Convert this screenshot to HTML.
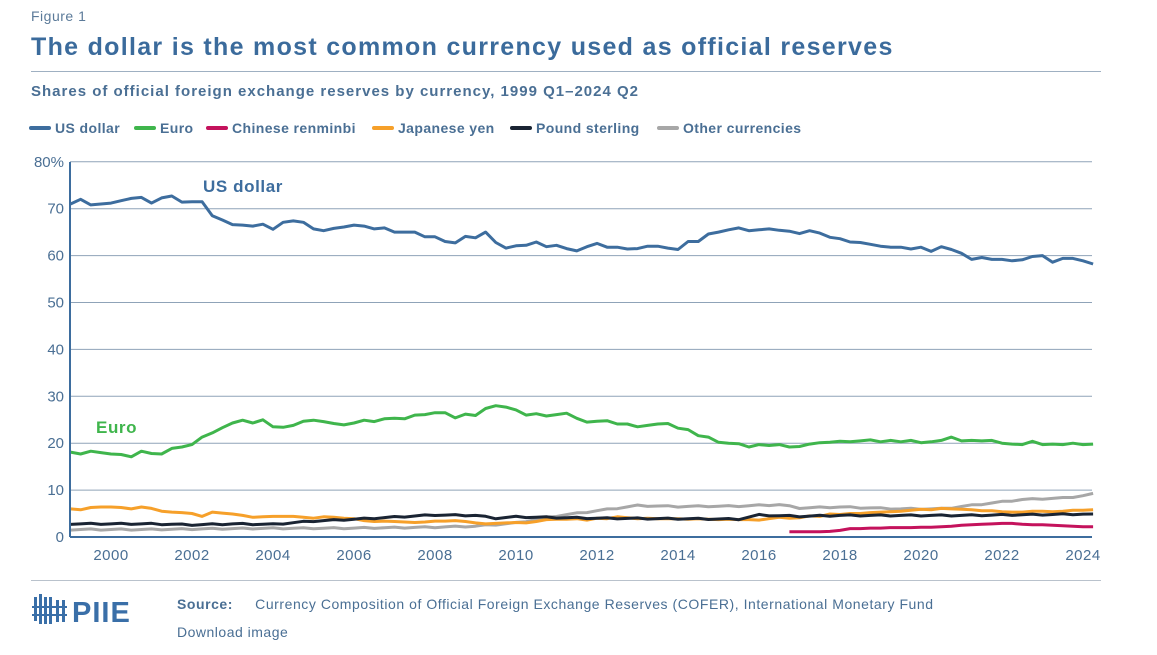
<!DOCTYPE html>
<html><head><meta charset="utf-8"><style>
body{margin:0;background:#fff;width:1157px;height:655px;overflow:hidden;font-family:"Liberation Sans",sans-serif;position:relative}
.t{position:absolute;white-space:nowrap}
</style></head><body>
<div class="t" style="left:31px;top:8px;font-size:14px;color:#5b7a99;letter-spacing:0.5px">Figure 1</div>
<div class="t" style="left:31px;top:33px;font-size:25px;font-weight:bold;color:#3b6b9c;letter-spacing:1.3px">The dollar is the most common currency used as official reserves</div>
<div style="position:absolute;left:31px;top:71px;width:1070px;height:1px;background:#9fb0c2"></div>
<div class="t" style="left:31px;top:83px;font-size:15px;font-weight:bold;color:#4a6f94;letter-spacing:1px">Shares of official foreign exchange reserves by currency, 1999 Q1–2024 Q2</div>
<svg width="1157" height="655" style="position:absolute;left:0;top:0" id="s" font-family="Liberation Sans, sans-serif"></svg>
<div style="position:absolute;left:31px;top:580px;width:1070px;height:1px;background:#b9c2cc"></div>
<div class="t" style="left:72px;top:597px;font-size:29px;font-weight:bold;color:#3a6fa8;letter-spacing:1px">PIIE</div>
<div class="t" style="left:177px;top:596px;font-size:14px;color:#4a6f94;letter-spacing:0.55px"><b>Source:</b>&nbsp;&nbsp;&nbsp;&nbsp; Currency Composition of Official Foreign Exchange Reserves (COFER), International Monetary Fund</div>
<div class="t" style="left:177px;top:624px;font-size:14px;color:#4a6f94;letter-spacing:0.5px">Download image</div>
<script>
const s=document.getElementById('s');let h='';
const X=i=>70.5+i*40.5/4, Y=v=>537-v*4.69;
for(let v=10;v<=80;v+=10)h+=`<line x1="70" x2="1092" y1="${Y(v)}" y2="${Y(v)}" stroke="#8fa3b8" stroke-width="1"/>`;
for(let v=0;v<=80;v+=10)h+=`<text x="64" y="${Y(v)+5}" text-anchor="end" font-size="15" fill="#4a6f94">${v==80?'80%':v}</text>`;
for(let y=2000;y<=2024;y+=2)h+=`<text x="${X((y-1999)*4)}" y="560" text-anchor="middle" font-size="15" fill="#4a6f94" letter-spacing="0.5">${y}</text>`;
h+=`<g fill="#3a6fa8"><rect x="34" y="597" width="3" height="24"/><rect x="39" y="594" width="3" height="30"/><rect x="44" y="597" width="3" height="27"/><rect x="49" y="597" width="3" height="27"/><rect x="56" y="600" width="3" height="22"/><rect x="62" y="600" width="3" height="22"/><rect x="32" y="606" width="35" height="2"/><rect x="32" y="614" width="35" height="2"/></g>`;
const D={
us:[71,72,70.8,71,71.2,71.7,72.2,72.4,71.2,72.3,72.7,71.4,71.5,71.5,68.5,67.6,66.6,66.5,66.3,66.7,65.6,67.1,67.4,67.1,65.7,65.3,65.8,66.1,66.5,66.3,65.7,65.9,65,65,65,64,64,63,62.7,64.1,63.8,65,62.8,61.6,62.1,62.2,62.9,61.9,62.2,61.5,61,61.9,62.6,61.8,61.8,61.4,61.5,62,62,61.6,61.3,63,63,64.6,65,65.5,65.9,65.3,65.5,65.7,65.4,65.2,64.7,65.3,64.8,63.9,63.6,62.9,62.8,62.4,62,61.8,61.8,61.4,61.8,60.9,61.9,61.3,60.5,59.2,59.6,59.2,59.2,58.9,59.1,59.8,60,58.6,59.4,59.4,58.9,58.2],
eu:[18.1,17.7,18.3,18,17.7,17.6,17.1,18.3,17.8,17.7,18.9,19.2,19.7,21.3,22.2,23.3,24.3,24.9,24.3,25,23.5,23.4,23.8,24.7,24.9,24.6,24.2,23.9,24.3,24.9,24.6,25.2,25.3,25.2,26,26.1,26.5,26.5,25.4,26.2,25.9,27.4,28,27.7,27.1,26,26.3,25.8,26.1,26.4,25.3,24.5,24.7,24.8,24.1,24.1,23.5,23.8,24.1,24.2,23.2,22.9,21.6,21.3,20.2,20,19.9,19.2,19.7,19.5,19.7,19.2,19.3,19.8,20.1,20.2,20.4,20.3,20.5,20.7,20.3,20.6,20.3,20.6,20.1,20.3,20.6,21.3,20.5,20.6,20.5,20.6,20,19.8,19.7,20.4,19.7,19.8,19.7,20,19.7,19.8],
jp:[6,5.8,6.3,6.4,6.4,6.3,6,6.4,6.1,5.5,5.3,5.2,5,4.4,5.3,5.1,4.9,4.6,4.2,4.3,4.4,4.4,4.4,4.2,4,4.3,4.2,4,3.9,3.5,3.3,3.4,3.3,3.2,3.1,3.2,3.4,3.4,3.5,3.3,3,2.8,2.9,3,3.1,3,3.3,3.7,3.8,3.8,3.9,3.6,4,3.9,4.3,4.1,3.9,4,3.9,3.9,3.9,3.8,3.9,3.8,3.7,3.8,3.7,3.7,3.6,3.9,4.2,4,4.1,4.5,4.4,4.9,4.8,5,5,5.2,5.3,5.4,5.5,5.7,5.9,5.8,6.1,6,5.9,5.8,5.6,5.6,5.4,5.3,5.3,5.5,5.5,5.4,5.5,5.7,5.7,5.8]};
const gk=[[0,2.8],[8,2.8],[12,2.6],[16,2.8],[20,2.7],[24,3.4],[28,3.8],[36,4.7],[40,4.6],[42,4],[44,4.3],[52,4.0],[60,3.9],[66,3.8],[68,4.7],[72,4.4],[76,4.6],[84,4.6],[88,4.6],[101,4.9]];
const ok=[[0,1.6],[8,1.6],[16,1.8],[28,1.9],[36,2.1],[40,2.3],[44,3],[48,4.5],[52,5.6],[56,6.7],[60,6.5],[66,6.6],[70,6.9],[72,6.2],[76,6.4],[82,6],[86,6],[90,7],[94,8],[98,8.3],[100,8.8],[101,9.3]];
function interp(k){const a=[];for(let j=0;j<k.length-1;j++){const[i0,v0]=k[j],[i1,v1]=k[j+1];for(let i=i0;i<i1;i++)a.push(v0+(v1-v0)*(i-i0)/(i1-i0)+((i*7)%3-1)*0.12);}a.push(k[k.length-1][1]);return a;}
const rmb=[1.1,1.1,1.1,1.1,1.2,1.4,1.8,1.8,1.9,1.9,2,2,2,2.1,2.1,2.2,2.3,2.5,2.6,2.7,2.8,2.9,2.9,2.7,2.6,2.6,2.5,2.4,2.3,2.2,2.2];
const pl=(a,c,o=0)=>`<polyline fill="none" stroke="${c}" stroke-width="3" stroke-linejoin="round" points="${a.map((v,i)=>X(i+o).toFixed(1)+','+Y(v).toFixed(1)).join(' ')}"/>`;
h+=pl(interp(ok),'#a7a7a7')+pl(D.jp,'#f6a02a')+pl(interp(gk),'#1a2433')+pl(rmb,'#c4125c',71)+pl(D.eu,'#3fb54c')+pl(D.us,'#3d6d9e');
h+=`<line x1="70" x2="70" y1="162" y2="537" stroke="#3d6d9e" stroke-width="2"/><line x1="70" x2="1092" y1="537" y2="537" stroke="#3d6d9e" stroke-width="2"/>`;
h+=`<text x="203" y="192" font-size="17" font-weight="bold" fill="#3d6d9e" letter-spacing="0.6">US dollar</text><text x="96" y="433" font-size="17" font-weight="bold" fill="#3fb54c" letter-spacing="0.6">Euro</text>`;
const L=[['US dollar','#3d6d9e',31],['Euro','#3fb54c',136],['Chinese renminbi','#c4125c',208],['Japanese yen','#f6a02a',374],['Pound sterling','#1a2433',512],['Other currencies','#a7a7a7',659]];
for(const[n,c,x]of L)h+=`<line x1="${x}" x2="${x+18}" y1="128" y2="128" stroke="${c}" stroke-width="4" stroke-linecap="round"/><text x="${x+24}" y="133" font-size="14" font-weight="bold" fill="#4a6f94" letter-spacing="0.4">${n}</text>`;
s.innerHTML=h;
</script>
</body></html>
